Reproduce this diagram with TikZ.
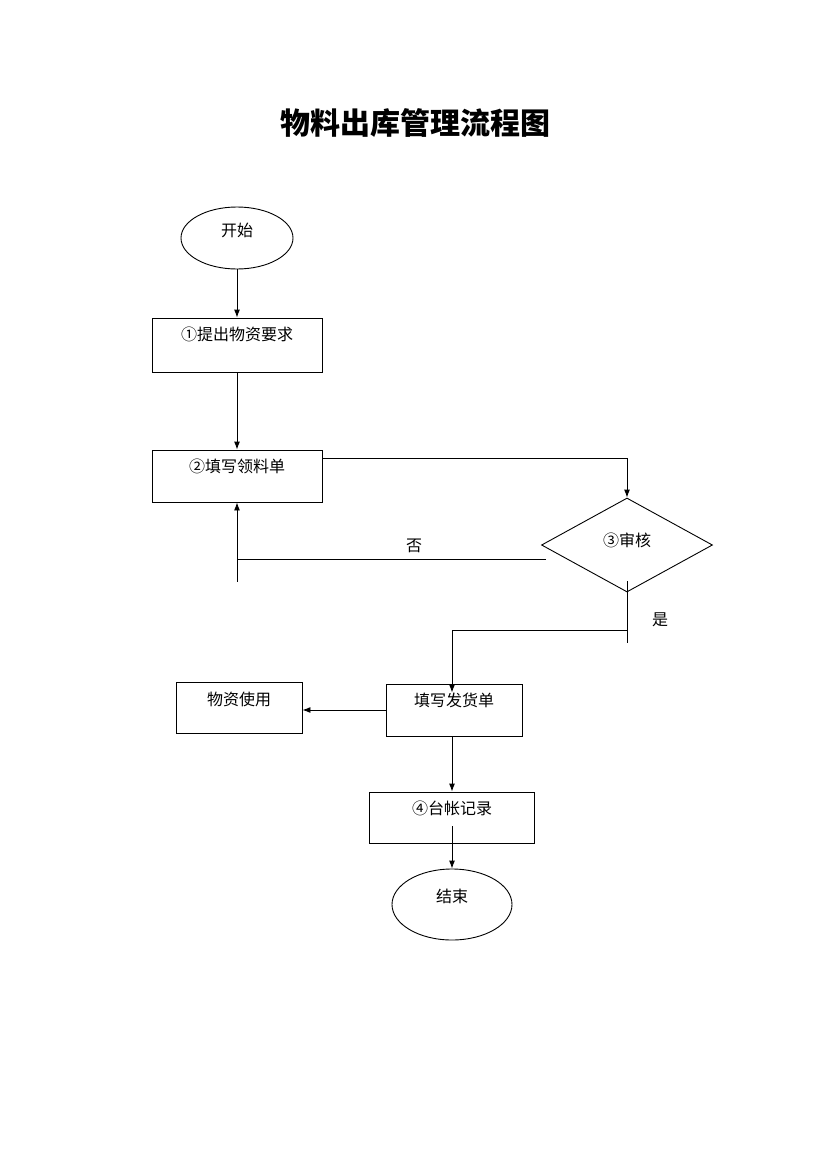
\documentclass[tikz,border=0pt]{standalone}
\usepackage{fontspec}
\setmainfont{Noto Sans CJK SC}
\usetikzlibrary{arrows.meta,shapes.geometric}

\begin{document}
\begin{tikzpicture}[x=1pt,y=-1pt,auto,line width=0.9pt,>={Latex[length=8pt,width=6pt]},
  font=\fontsize{16}{19}\selectfont,
  procbox/.style={draw,rectangle,inner sep=0pt,text height=22pt},
  terminal/.style={draw,ellipse,inner sep=0pt,text height=0pt,text depth=4pt},
  decision/.style={draw,diamond,inner sep=0pt,text height=6pt,text depth=4pt}]
  \useasboundingbox (0,0) rectangle (830,1173);
  \node (title) at (415,123) {\fontsize{30}{36}\selectfont\bfseries 物料出库管理流程图};
  \node (start) [terminal,minimum width=112pt,minimum height=62pt] at (237,238) {开始};
  \node (b1) [procbox,minimum width=170pt,text depth=32pt] at (237,345) {①提出物资要求};
  \node (b2) [procbox,minimum width=170pt,text depth=30pt] at (237,476) {②填写领料单};
  \node (audit) [decision,minimum width=171pt,minimum height=94pt] at (627,545) {③审核};
  \node (b3) [procbox,minimum width=136pt,text depth=30pt] at (454,710) {填写发货单};
  \node (use) [procbox,minimum width=126pt,text height=23pt,text depth=28pt] at (239,707.5) {物资使用};
  \node (b4) [procbox,minimum width=165pt,text depth=29pt] at (452,817.5) {④台帐记录};
  \node (end) [terminal,minimum width=120pt,minimum height=71pt] at (452,904.5) {结束};
  \node (no) at (414,546) {否};
  \node (yes) at (660,620) {是};
  % free ends of the branch lines
  \coordinate (nostart) at (546,559);
  \coordinate (nostub) at (237,582);
  \coordinate (yestop) at (627,581);
  \coordinate (yesbot) at (627,643);
  \coordinate (yesturn) at (627,630);
  \path[draw,->]
    (start) edge (b1)
    (b1) edge (b2);
  \draw[->] ([yshift=-9pt]b2.north east) -| (audit.north);
  \draw[->] (nostart) -| (b2.south);
  \draw (b2.south |- nostart) -- (nostub);
  \draw (yestop) -- (yesbot);
  \draw[->] (yesturn) -| ([xshift=-2pt,yshift=-9pt]b3.north);
  \draw[->] (b3.west) -- (b3.west -| use.east);
  \draw[->] (b3.south -| b4.north) -- (b4.north);
  \draw[->] ([yshift=17pt]b4.south) -- (end.north);
\end{tikzpicture}
\end{document}
